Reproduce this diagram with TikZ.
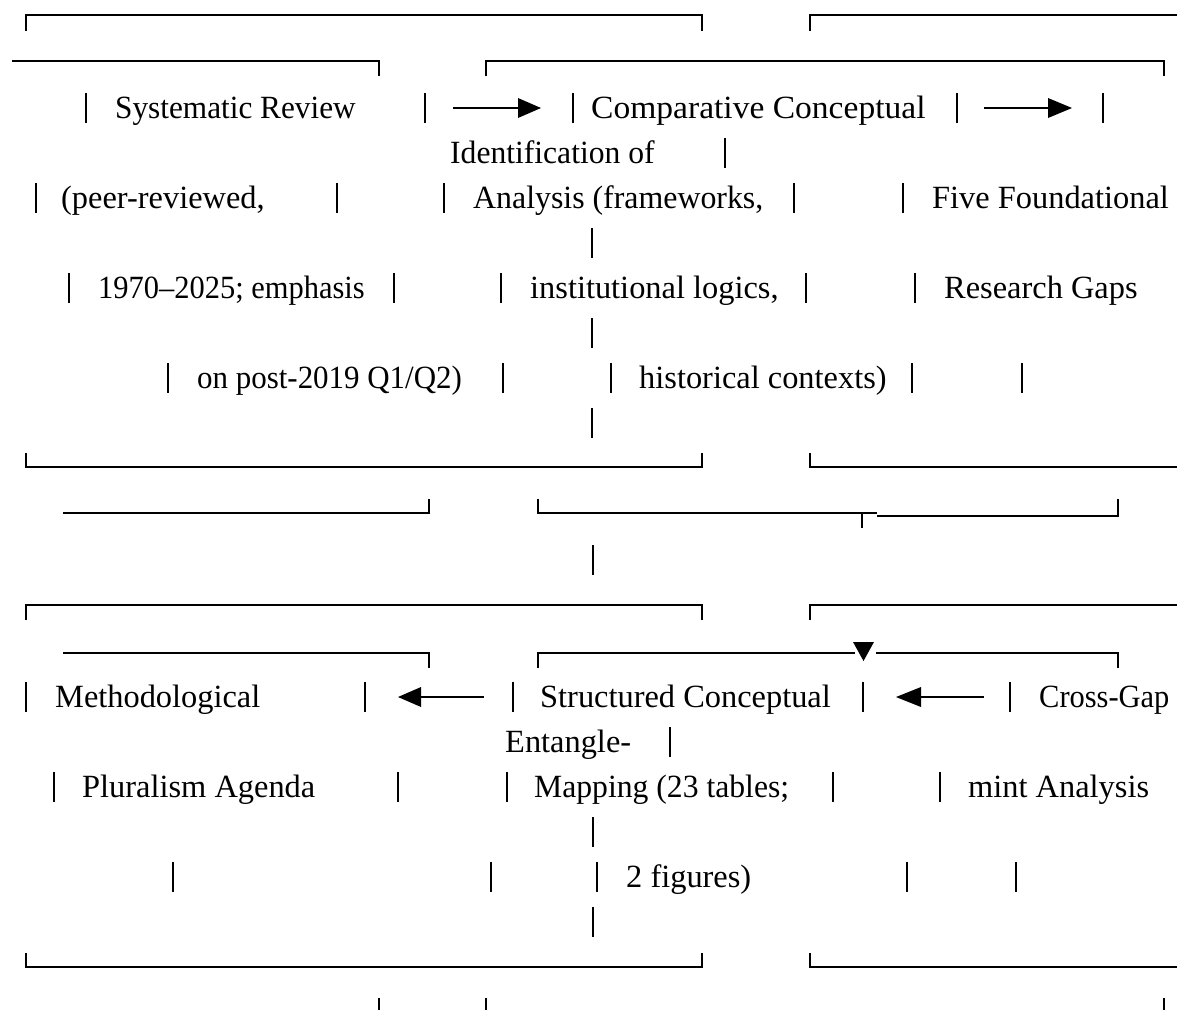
\documentclass[tikz,border=0pt]{standalone}
\usepackage{fontspec}
\usepackage{graphicx}
\setmainfont{Liberation Serif}
\tikzset{
  boxline/.style={line width=2.1pt, line join=miter},
  barline/.style={line width=1.9pt},
  txt/.style={anchor=base west, inner sep=0pt, font=\fontsize{32.4}{38}\selectfont},
  tip/.style={fill=black}
}
\newcommand\mybar[2]{\draw[barline] (#1,#2-25) -- (#1,#2+5);}
\newcommand\hs[2]{\scalebox{#1}[1]{#2}}
\begin{document}
\begin{tikzpicture}[x=1pt,y=-1pt]
\useasboundingbox (0,0) rectangle (1177,1009);
% Row A
\draw[boxline] (26,31) -- (26,15) -- (702,15) -- (702,31);
\draw[boxline] (810,31) -- (810,15) -- (1177,15);
% Row B
\draw[boxline] (12,61) -- (379,61) -- (379,76);
\draw[boxline] (486,76) -- (486,61) -- (1164,61) -- (1164,76);
% Row C
\mybar{86}{118}\mybar{425}{118}\mybar{573}{118}\mybar{957}{118}\mybar{1103}{118}
\node[txt] (t1) at (115,118) {\hs{0.965}{Systematic Review}};
\node[txt] (t2) at (591,118) {\hs{1.035}{Comparative Conceptual}};
\draw[boxline] (453,108) -- (521,108);
\fill[tip] (518,98) -- (541,108) -- (518,118) -- cycle;
\draw[boxline] (984,108) -- (1051,108);
\fill[tip] (1048,98) -- (1072,108) -- (1048,118) -- cycle;
% Row D
\node[txt] (t3) at (450,163) {\hs{0.975}{Identification of}};
\mybar{725}{163}
% Row E
\mybar{36}{208}\mybar{337}{208}\mybar{444}{208}\mybar{794}{208}\mybar{903}{208}
\node[txt] (t4) at (61,208) {(peer-reviewed,};
\node[txt] (t5) at (473,208) {\hs{0.983}{Analysis (frameworks,}};
\node[txt] (t6) at (932,208) {Five Foundational};
% Row F
\mybar{592}{253}
% Row G
\mybar{69}{298}\mybar{394}{298}\mybar{501}{298}\mybar{806}{298}\mybar{915}{298}
\node[txt] (t7) at (98,298) {\hs{0.94}{1970–2025; emphasis}};
\node[txt] (t8) at (530,298) {institutional logics,};
\node[txt] (t9) at (944,298) {Research Gaps};
% Row H
\mybar{592}{343}
% Row I
\mybar{168}{388}\mybar{503}{388}\mybar{611}{388}\mybar{912}{388}\mybar{1022}{388}
\node[txt] (t10) at (197,388) {\hs{0.955}{on post-2019 Q1/Q2)}};
\node[txt] (t11) at (639,388) {historical contexts)};
% Row J
\mybar{592}{433}
% Row K
\draw[boxline] (26,453) -- (26,467) -- (702,467) -- (702,453);
\draw[boxline] (810,453) -- (810,467) -- (1177,467);
% Row L
\draw[boxline] (63,513) -- (429,513) -- (429,499);
\draw[boxline] (538,499) -- (538,513) -- (877,513);
\draw[barline] (862,513) -- (862,528);
\draw[boxline] (877,516) -- (1118,516) -- (1118,499);
% Row M
\mybar{593}{570}
% Row N
\draw[boxline] (26,620) -- (26,605) -- (702,605) -- (702,620);
\draw[boxline] (810,620) -- (810,605) -- (1177,605);
% Row O
\draw[boxline] (63,653) -- (429,653) -- (429,668);
\draw[boxline] (538,668) -- (538,653) -- (855,653);
\fill[tip] (853,642) -- (874,642) -- (863.5,661) -- cycle;
\draw[boxline] (876,653) -- (1118,653) -- (1118,668);
% Row P
\mybar{26}{707}\mybar{365}{707}\mybar{513}{707}\mybar{863}{707}\mybar{1010}{707}
\node[txt] (t12) at (55,707) {Methodological};
\node[txt] (t13) at (540,707) {Structured Conceptual};
\node[txt] (t14) at (1039,707) {\hs{0.94}{Cross-Gap}};
\fill[tip] (421,687) -- (398,697) -- (421,707) -- cycle;
\draw[boxline] (419,697) -- (484,697);
\fill[tip] (921,687) -- (896,697) -- (921,707) -- cycle;
\draw[boxline] (919,697) -- (984,697);
% Row Q
\node[txt] (t15) at (505,752) {Entangle-};
\mybar{670}{752}
% Row R
\mybar{54}{797}\mybar{398}{797}\mybar{507}{797}\mybar{833}{797}\mybar{940}{797}
\node[txt] (t16) at (82,797) {Pluralism Agenda};
\node[txt] (t17) at (534,797) {\hs{0.977}{Mapping (23 tables;}};
\node[txt] (t18) at (968,797) {mint Analysis};
% Row S
\mybar{593}{842}
% Row T
\mybar{173}{887}\mybar{491}{887}\mybar{597}{887}\mybar{907}{887}\mybar{1016}{887}
\node[txt] (t19) at (626,887) {2 figures)};
% Row U
\mybar{593}{932}
% Row V
\draw[boxline] (26,953) -- (26,967) -- (702,967) -- (702,953);
\draw[boxline] (810,953) -- (810,967) -- (1177,967);
% Row W
\draw[barline] (379,998) -- (379,1012);
\draw[barline] (486,998) -- (486,1012);
\draw[barline] (1164,998) -- (1164,1012);
\end{tikzpicture}
\end{document}
